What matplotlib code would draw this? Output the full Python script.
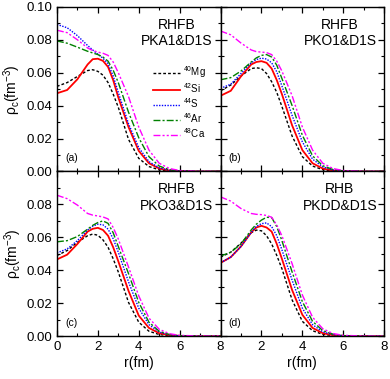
import numpy as np
import matplotlib
matplotlib.use("Agg")
import matplotlib.pyplot as plt
from matplotlib.ticker import MultipleLocator

plt.rcParams.update({"font.family": ["Liberation Sans", "DejaVu Sans"],
                     "mathtext.fontset": "custom",
                     "mathtext.rm": "Liberation Sans",
                     "font.size": 9})

# radial grid (fm)
r = [0, 0.5, 1, 1.5, 1.75, 2, 2.25, 2.5, 2.75, 3, 3.5, 4, 4.5, 5, 5.5, 6, 7, 8]

nuclei = ["$^\\mathregular{40}$Mg", "$^\\mathregular{42}$Si", "$^\\mathregular{44}$S",
          "$^\\mathregular{46}$Ar", "$^\\mathregular{48}$Ca"]

# charge densities (fm^-3), order: Mg, Si, S, Ar, Ca
rho_pka1 = [
    [0.0517, 0.054, 0.0577, 0.0613, 0.0618, 0.0608, 0.0585, 0.054, 0.047, 0.039, 0.0195, 0.008, 0.003, 0.001, 0.0003, 0.0001, 0, 0],
    [0.0475, 0.0495, 0.056, 0.065, 0.0682, 0.0685, 0.0672, 0.0635, 0.0555, 0.045, 0.027, 0.0125, 0.005, 0.0018, 0.0006, 0.0002, 0, 0],
    [0.0893, 0.0873, 0.0825, 0.0765, 0.0738, 0.0712, 0.0688, 0.0655, 0.058, 0.048, 0.029, 0.0145, 0.006, 0.0022, 0.0008, 0.0002, 0, 0],
    [0.0793, 0.0779, 0.0755, 0.073, 0.072, 0.071, 0.0695, 0.067, 0.0615, 0.054, 0.036, 0.0205, 0.009, 0.0033, 0.0011, 0.0003, 0, 0],
    [0.0858, 0.0843, 0.080, 0.075, 0.0735, 0.0725, 0.0718, 0.0705, 0.0665, 0.060, 0.0455, 0.027, 0.013, 0.005, 0.0018, 0.0006, 0.0001, 0],
]
rho_pko1 = [
    [0.049, 0.0525, 0.058, 0.0625, 0.063, 0.0625, 0.0595, 0.0545, 0.048, 0.0395, 0.0215, 0.009, 0.0033, 0.0011, 0.0003, 0.0001, 0, 0],
    [0.046, 0.049, 0.0578, 0.065, 0.0665, 0.067, 0.066, 0.0625, 0.0555, 0.047, 0.028, 0.013, 0.005, 0.0018, 0.0006, 0.0002, 0, 0],
    [0.0505, 0.053, 0.0595, 0.066, 0.068, 0.0688, 0.0683, 0.066, 0.0605, 0.052, 0.034, 0.018, 0.0075, 0.0028, 0.0009, 0.0003, 0, 0],
    [0.0557, 0.057, 0.061, 0.0665, 0.069, 0.0705, 0.071, 0.0695, 0.0645, 0.0565, 0.040, 0.022, 0.0095, 0.0035, 0.0012, 0.0004, 0, 0],
    [0.0853, 0.083, 0.078, 0.0738, 0.0728, 0.0725, 0.0722, 0.071, 0.067, 0.061, 0.046, 0.027, 0.013, 0.005, 0.0018, 0.0006, 0.0001, 0],
]
rho_pko3 = [
    [0.049, 0.052, 0.057, 0.061, 0.062, 0.0613, 0.0585, 0.054, 0.047, 0.039, 0.0205, 0.0085, 0.003, 0.001, 0.0003, 0.0001, 0, 0],
    [0.0466, 0.0495, 0.056, 0.0635, 0.0652, 0.0658, 0.0645, 0.061, 0.054, 0.0455, 0.0275, 0.0125, 0.005, 0.0018, 0.0006, 0.0002, 0, 0],
    [0.0506, 0.053, 0.058, 0.0645, 0.0668, 0.068, 0.0676, 0.065, 0.0592, 0.051, 0.033, 0.017, 0.007, 0.0025, 0.0008, 0.0002, 0, 0],
    [0.0573, 0.058, 0.0605, 0.065, 0.0673, 0.069, 0.070, 0.0685, 0.0628, 0.0545, 0.038, 0.0205, 0.0085, 0.003, 0.001, 0.0003, 0, 0],
    [0.0856, 0.0835, 0.0796, 0.0745, 0.0735, 0.073, 0.0724, 0.0712, 0.066, 0.059, 0.042, 0.0245, 0.011, 0.0042, 0.0015, 0.0005, 0.0001, 0],
]
rho_pkdd = [
    [0.048, 0.051, 0.0565, 0.0628, 0.0644, 0.064, 0.061, 0.056, 0.049, 0.041, 0.022, 0.009, 0.0033, 0.0011, 0.0003, 0.0001, 0, 0],
    [0.0445, 0.048, 0.0545, 0.063, 0.066, 0.067, 0.066, 0.0635, 0.056, 0.047, 0.028, 0.013, 0.005, 0.0018, 0.0006, 0.0002, 0, 0],
    [0.0445, 0.048, 0.0545, 0.063, 0.0667, 0.0683, 0.0688, 0.0665, 0.061, 0.0525, 0.034, 0.017, 0.007, 0.0026, 0.0009, 0.0002, 0, 0],
    [0.0486, 0.051, 0.056, 0.0645, 0.068, 0.0705, 0.0722, 0.072, 0.0665, 0.058, 0.039, 0.021, 0.009, 0.0034, 0.0012, 0.0003, 0, 0],
    [0.0846, 0.082, 0.0775, 0.0745, 0.074, 0.0738, 0.0733, 0.0722, 0.0675, 0.061, 0.044, 0.025, 0.0115, 0.0045, 0.0016, 0.0005, 0.0001, 0],
]

panels = [(rho_pka1, "RHFB\nPKA1&D1S", "(a)"),
          (rho_pko1, "RHFB\nPKO1&D1S", "(b)"),
          (rho_pko3, "RHFB\nPKO3&D1S", "(c)"),
          (rho_pkdd, "RHB\nPKDD&D1S", "(d)")]

colors = ["black", "red", "blue", "green", "magenta"]
styles = [(0, (2, 1.5)), "-", (0, (1, 1)), (0, (5, 1.5, 1.5, 1.5)),
          (0, (5, 1.5, 1.5, 1.5, 1.5, 1.5))]
widths = [1.0, 1.3, 1.0, 1.0, 1.0]

fig, axes = plt.subplots(2, 2, figsize=(3.9, 3.79), dpi=100)
fig.subplots_adjust(left=0.146, right=0.985, top=0.982, bottom=0.113,
                    hspace=0, wspace=0)

for k, (ax, (rho, title, tag)) in enumerate(zip(axes.flat, panels)):
    for y, c, ls, lw, lab in zip(rho, colors, styles, widths, nuclei):
        ax.plot(r, y, color=c, ls=ls, lw=lw, label=lab)
    ax.set_xlim(0, 8)
    ax.set_ylim(0, 0.10)
    ax.xaxis.set_major_locator(MultipleLocator(2))
    ax.xaxis.set_minor_locator(MultipleLocator(1))
    ax.yaxis.set_major_locator(MultipleLocator(0.02))
    ax.yaxis.set_minor_locator(MultipleLocator(0.01))
    ax.tick_params(which="both", direction="in", top=True, right=True,
                   labelsize=9.5)
    ax.tick_params(which="major", length=4, width=0.9)
    ax.tick_params(which="minor", length=2.5, width=0.8)
    for sp in ax.spines.values():
        sp.set_linewidth(1.0)
    ax.text(0.73, 0.935, title, transform=ax.transAxes, ha="center",
            va="top", multialignment="center", fontsize=10, linespacing=1.25)
    ax.text(0.05, 0.08, tag, transform=ax.transAxes, ha="left",
            va="center", fontsize=7.5)

    row, col = divmod(k, 2)
    if col == 0:
        ax.set_ylabel("ρ$_\\mathregular{c}$(fm$^\\mathregular{-3}$)",
                      fontsize=10, labelpad=2)
        ax.set_yticks([0, 0.02, 0.04, 0.06, 0.08, 0.10])
        if row == 0:
            ax.set_yticklabels(["0.00", "0.02", "0.04", "0.06", "0.08", "0.10"])
        else:
            ax.set_yticklabels(["0.00", "0.02", "0.04", "0.06", "0.08", ""])
    else:
        ax.tick_params(labelleft=False)
    if row == 1:
        ax.set_xlabel("r(fm)", fontsize=10, labelpad=2)
        ax.set_xticks([0, 2, 4, 6, 8])
        if col == 0:
            ax.set_xticklabels(["0", "2", "4", "6", "8"])
        else:
            ax.set_xticklabels(["", "2", "4", "6", "8"])
    else:
        ax.tick_params(labelbottom=False)

axes[0, 0].legend(loc="upper right", bbox_to_anchor=(0.95, 0.69),
                  frameon=False, fontsize=7, handlelength=2.7,
                  handletextpad=0.3, labelspacing=0.12, borderpad=0.2)

fig.savefig("out.png", dpi=100)
